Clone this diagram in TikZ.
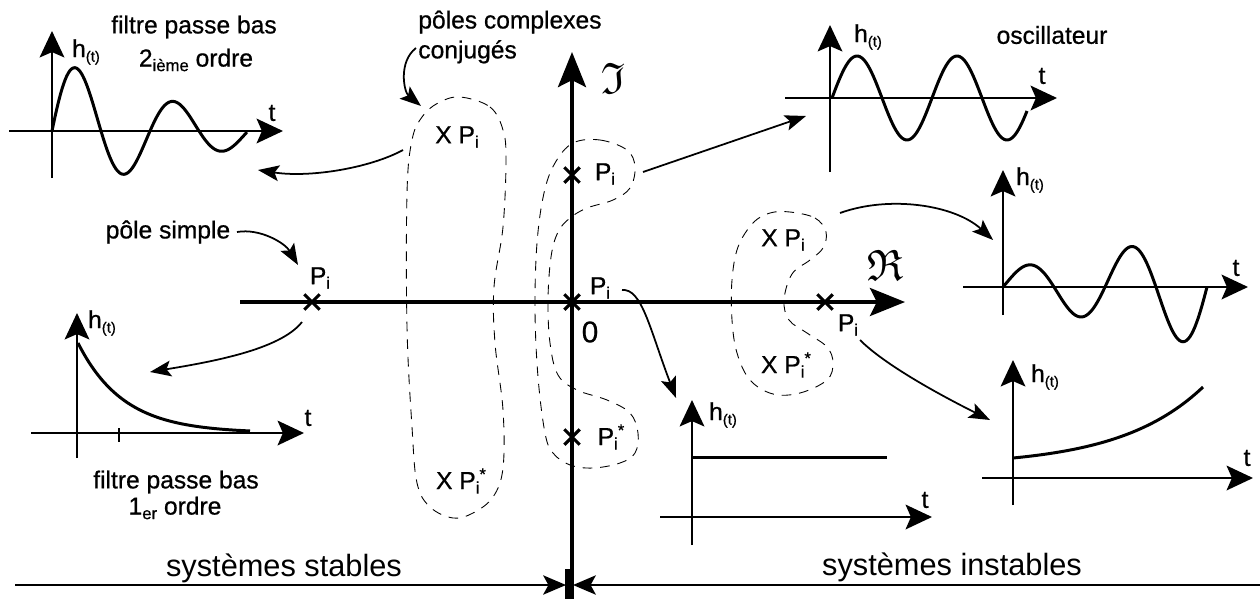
\documentclass[tikz,border=0pt]{standalone}
\usepackage{amssymb}
\usepackage{fontspec}
\setmainfont{Liberation Sans}
\newfontfamily\lblfont{Liberation Sans}[FakeBold=0.7]
\usetikzlibrary{arrows.meta,shapes.misc}

\newcommand{\lo}[1]{\raisebox{-0.35ex}{\fontsize{9.5}{10}\selectfont #1}}
\newcommand{\Pind}{P\lo{i}}
\newcommand{\Pconj}{P\lo{i}\raisebox{0.7ex}{\fontsize{9.5}{10}\selectfont *}}
\newcommand{\hoft}{h\raisebox{-0.35ex}{\fontsize{8.5}{9}\selectfont (t)}}

\begin{document}
\begin{tikzpicture}[x=0.02cm, y=-0.02cm,
  mainaxis/.style={-{Stealth[length=20pt, width=16pt, inset=4pt]}, line width=1.9pt},
  graphaxis/.style={-{Stealth[length=15pt, width=14pt, inset=3pt]}, line width=1.5pt},
  response/.style={line width=1.7pt},
  link/.style={-{Stealth[length=12pt, width=9pt, inset=2.5pt]}, line width=1pt},
  region/.style={dash pattern=on 5.5pt off 4.5pt, line width=0.5pt},
  pole/.style={cross out, draw, line width=1.8pt, minimum size=7pt, inner sep=0pt},
  lbl/.style={font=\lblfont\fontsize{14}{17}\selectfont, inner sep=0pt},
  big/.style={font=\fontsize{17.5}{20}\selectfont, inner sep=0pt}
]
\useasboundingbox (0,0) rectangle (1260,599);

\coordinate (reL) at (240,302);
\coordinate (reR) at (905,302);
\coordinate (imB) at (572,599);
\coordinate (imT) at (572,52);
\draw[mainaxis] (reL) -- (reR);
\draw[mainaxis] (imB) -- (imT);
\node[inner sep=0pt] (imlbl) at (613,78) {\fontsize{25}{27}\selectfont$\mathfrak{I}$};
\node[inner sep=0pt] (relbl) at (885,265) {\fontsize{25}{27}\selectfont$\mathfrak{R}$};
\node[font=\lblfont\fontsize{17}{20}\selectfont, inner sep=0pt] (zero) at (590,332) {0};

\coordinate (baseL) at (15,585);
\coordinate (baseR) at (1260,585);
\coordinate (midL) at (566,585);
\coordinate (midR) at (573,585);
\draw[line width=1.1pt, -{Stealth[length=13pt, width=11pt, inset=3pt]}] (baseL) -- (midL);
\draw[line width=1.1pt, -{Stealth[length=13pt, width=11pt, inset=3pt]}] (baseR) -- (midR);
\draw[line width=4pt] (569,569) -- (569,599);
\node[big] (stab) at (284,568) {systèmes stables};
\node[big] (instab) at (952,567) {systèmes instables};

\draw[region] plot[smooth cycle, tension=0.6] coordinates {(460,97) (490,107) (503,130) (506,160) (503,227) (494,287) (495,343) (503,410) (503,468) (493,497) (473,513) (453,518) (430,507) (417,483) (412,427) (407,327) (407,193) (412,140) (422,117) (438,103)};
\draw[region] plot[smooth cycle, tension=0.6] coordinates {(573,143) (600,140) (627,150) (635,167) (630,188) (613,200) (587,208) (570,218) (558,232) (551,257) (548,300) (550,343) (558,375) (577,390) (607,400) (630,413) (638,433) (635,453) (620,463) (593,468) (570,465) (553,453) (545,433) (538,377) (535,310) (537,243) (544,193) (555,163)};
\draw[region] plot[smooth cycle, tension=0.6] coordinates {(790,212) (815,218) (826,232) (823,248) (810,260) (792,274) (784,300) (789,320) (807,333) (827,347) (833,363) (827,380) (800,393) (773,394) (750,380) (737,353) (732,320) (732,280) (738,247) (753,223) (770,213)};

\node[pole] (pS) at (312,302) {};
\node[lbl] (pSl) at (320,278) {\Pind};
\node[pole] (p0) at (572,302) {};
\node[lbl] (p0l) at (600,288) {\Pind};
\node[pole] (pU) at (572,175) {};
\node[lbl] (pUl) at (605,174) {\Pind};
\node[pole] (pD) at (572,437) {};
\node[lbl] (pDl) at (611,437) {\Pconj};
\node[pole] (pR) at (825,302) {};
\node[lbl] (pRl) at (848,325) {\Pind};
\node[lbl] (cA) at (457,137) {X \Pind};
\node[lbl] (cB) at (461,481) {X \Pconj};
\node[lbl] (rA) at (783,240) {X \Pind};
\node[lbl] (rB) at (786,365) {X \Pconj};

\node[lbl, align=left, anchor=west] (conj) at (418,37) {pôles complexes\\conjugés};
\node[lbl] (simple) at (168,232) {pôle simple};

\draw[graphaxis] (52,178) -- (52,31);
\draw[graphaxis] (9,131) -- (283,131);
\draw[response] plot[domain=52:247, samples=120] (\x, {131-76*exp(-0.00775*(\x-52))*sin(3.6735*(\x-52))});
\node[lbl] (g1h) at (86,52) {\hoft};
\node[lbl] (g1t) at (272,113) {t};
\node[lbl] (g1a) at (194,27) {filtre passe bas};
\node[lbl] (g1b) at (196,60) {2\lo{ième} ordre};

\draw[graphaxis] (830,172) -- (830,25);
\draw[graphaxis] (785,98) -- (1057,98);
\draw[response] plot[domain=832:1027, samples=120] (\x, {98-42*sin(3.6*(\x-832))});
\node[lbl] (g2h) at (868,37) {\hoft};
\node[lbl] (g2t) at (1042,76) {t};
\node[lbl] (g2a) at (1052,35) {oscillateur};

\draw[graphaxis] (1003,315) -- (1003,170);
\draw[graphaxis] (963,287) -- (1248,287);
\draw[response] plot[domain=1003:1207, samples=120] (\x, {287-19*exp(0.0059*(\x-1003))*sin(3.53*(\x-1003))});
\node[lbl] (g3h) at (1030,180) {\hoft};
\node[lbl] (g3t) at (1236,268) {t};

\draw[graphaxis] (77,458) -- (77,313);
\draw[graphaxis] (31,433) -- (304,433);
\draw[line width=1pt] (119,428) -- (119,442);
\draw[response] plot[domain=78:250, samples=80] (\x, {433-90*exp(-0.022*(\x-78))});
\node[lbl] (g4h) at (102,323) {\hoft};
\node[lbl] (g4t) at (308,418) {t};
\node[lbl] (g4a) at (176,482) {filtre passe bas};
\node[lbl] (g4b) at (175,508) {1\lo{er} ordre};

\draw[graphaxis] (692,545) -- (692,400);
\draw[graphaxis] (660,517) -- (932,517);
\draw[response] (692,457) -- (887,457);
\node[lbl] (g5h) at (723,415) {\hoft};
\node[lbl] (g5t) at (925,500) {t};

\draw[graphaxis] (1013,505) -- (1013,360);
\draw[graphaxis] (982,478) -- (1253,478);
\draw[response] plot[domain=1013:1203, samples=80] (\x, {458-8.1*(exp(0.012*(\x-1013))-1)});
\node[lbl] (g6h) at (1045,377) {\hoft};
\node[lbl] (g6t) at (1247,458) {t};

\coordinate (cj1) at (416,48);
\coordinate (cj2) at (421,106);
\coordinate (st1) at (403,150);
\coordinate (st2) at (258,170);
\coordinate (sp1) at (237,232);
\coordinate (sp2) at (298,265);
\coordinate (ps1) at (302,322);
\coordinate (ps2) at (150,372);
\coordinate (up1) at (643,172);
\coordinate (up2) at (806,116);
\coordinate (or1) at (622,290);
\coordinate (or2) at (676,398);
\coordinate (rb1) at (840,213);
\coordinate (rb2) at (993,240);
\coordinate (rp1) at (860,340);
\coordinate (rp2) at (990,420);
\draw[link] (cj1) .. controls (398,62) and (404,92) .. (cj2);
\draw[link] (st1) .. controls (370,168) and (310,178) .. (st2);
\draw[link] (sp1) .. controls (260,228) and (285,243) .. (sp2);
\draw[link] (ps1) .. controls (280,350) and (210,362) .. (ps2);
\draw[link] (up1) -- (up2);
\draw[link] (or1) .. controls (642,288) and (650,330) .. (or2);
\draw[link] (rb1) .. controls (890,195) and (955,205) .. (rb2);
\draw[link] (rp1) .. controls (885,365) and (940,395) .. (rp2);
\end{tikzpicture}
\end{document}
